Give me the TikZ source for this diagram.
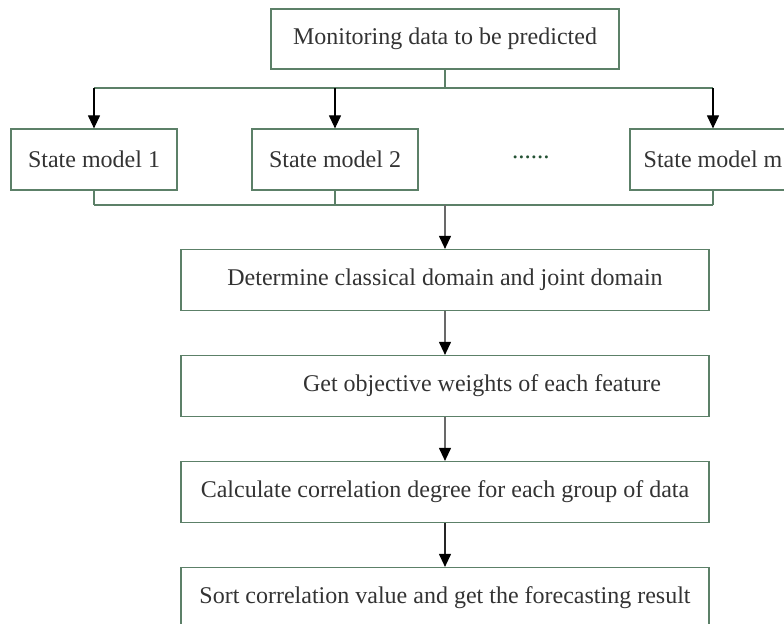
\documentclass[tikz,border=0pt]{standalone}
\usepackage{fontspec}
\setmainfont{Liberation Serif}
\usetikzlibrary{positioning,arrows.meta}

\definecolor{boxgreen}{RGB}{92,128,104}
\definecolor{dotgreen}{RGB}{36,82,52}
\definecolor{textgray}{RGB}{51,51,51}
\definecolor{arrowgray}{RGB}{105,105,105}

\begin{document}
\begin{tikzpicture}[x=0.5pt,y=-0.5pt,
  box node/.style={draw=boxgreen, line width=0.6pt, text=textgray,
    font=\fontsize{12}{14}\selectfont, inner sep=0pt},
  top node/.style={box node, minimum width=174pt, minimum height=30pt},
  model node/.style={box node, minimum width=83pt, minimum height=30.5pt},
  step node/.style={box node, minimum width=264pt, minimum height=30.5pt},
  link/.style={draw=boxgreen, line width=0.6pt},
  arrow/.style={-{Triangle[length=6.5pt,width=6pt,color=black]}, line width=0.55pt}]
\useasboundingbox (0,0) rectangle (784,623);
\clip (0,0) rectangle (784,623);

\node[top node]   (mon) at (445,39)    {Monitoring data to be predicted};
\node[model node] (sm1) at (94,159.5)  {State model 1};
\node[model node] (sm2) at (335,159.5) {State model 2};
\node[model node] (smm) at (713,159.5) {State model m};
\node[text=dotgreen, inner sep=0pt, font=\fontsize{12.5}{14}\selectfont] (dots) at (531,157) {......};

\node[step node] (det) at (445,280) {Determine classical domain and joint domain};
\node[step node, below=21.9pt of det] (obj) {\hspace*{37pt}Get objective weights of each feature};
\node[step node, below=21.9pt of obj] (cal) {Calculate correlation degree for each group of data};
\node[step node, below=21.9pt of cal] (sort) {Sort correlation value and get the forecasting result};

% split to the state models
\coordinate (split) at (445,88);
\draw[link] (mon.south) -- (split);
\draw[link] (sm1.north |- split) -- (smm.north |- split);
\foreach \m in {sm1,sm2,smm}
  \draw[arrow] (\m.north |- split) -- (\m.north);

% merge back into the main chain
\coordinate (merge) at (445,205);
\foreach \m in {sm1,sm2,smm}
  \draw[link] (\m.south) -- (\m.south |- merge);
\draw[link] (sm1.south |- merge) -- (smm.south |- merge);
\draw[arrow, arrowgray] (merge) -- (det.north);
\draw[arrow, arrowgray] (det) -- (obj);
\draw[arrow, arrowgray] (obj) -- (cal);
\draw[arrow, black!85] (cal) -- (sort);
\end{tikzpicture}
\end{document}
